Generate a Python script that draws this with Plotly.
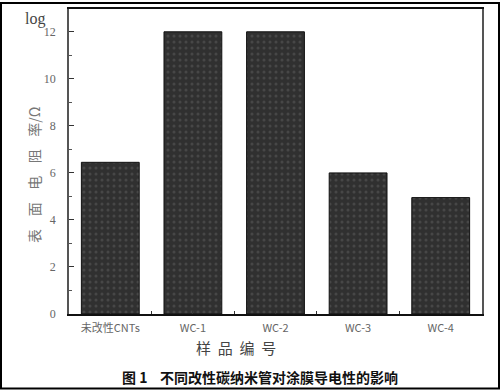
import plotly.graph_objects as go

categories = ["未改性CNTs", "WC-1", "WC-2", "WC-3", "WC-4"]
values = [6.45, 12.0, 12.0, 6.0, 4.95]
y_ticks = [0, 2, 4, 6, 8, 10, 12]

x_pos = list(range(len(categories)))

fig = go.Figure()
fig.add_trace(go.Bar(
    x=x_pos, y=values, width=0.7,
    marker=dict(
        color="#333333",
        line=dict(color="#111111", width=1),
        pattern=dict(shape=".", fgcolor="#5e5e5e", bgcolor="#303030", size=6, solidity=0.2),
    ),
))

fig.update_layout(
    width=500, height=390,
    margin=dict(l=69, r=18, t=7, b=76),
    paper_bgcolor="white", plot_bgcolor="white",
    showlegend=False,
    font=dict(family="Noto Sans CJK SC", color="#555"),
    xaxis=dict(
        range=[-0.5, 4.5], tickvals=x_pos, ticktext=categories,
        showline=True, linecolor="#111", linewidth=1.5, mirror=True,
        ticks="inside", ticklen=4, tickcolor="#333",
        minor=dict(ticks="inside", ticklen=3, tickvals=[0.5, 1.5, 2.5, 3.5], tickcolor="#333"),
        showgrid=False, zeroline=False, ticklabelstandoff=3,
        tickfont=dict(family="Noto Sans CJK SC", size=11, color="#666"),
    ),
    yaxis=dict(
        range=[0, 12.97], tickvals=y_ticks,
        showline=True, linecolor="#555", linewidth=1.5, mirror=True,
        ticks="inside", ticklen=5, tickcolor="#333",
        minor=dict(ticks="inside", ticklen=3, dtick=1, tickcolor="#555"),
        showgrid=False, zeroline=False, ticklabelstandoff=9,
        tickfont=dict(family="Liberation Serif", size=12, color="#666"),
    ),
    shapes=[dict(type="rect", xref="paper", yref="paper", x0=-68/413, x1=1+17/413,
                 y0=-75/307, y1=1+6/307, line=dict(color="black", width=2))],
)

def ann(text, px, py, size, color, family, angle=0):
    fig.add_annotation(text=text, xref="paper", yref="paper",
                       x=(px - 69) / 413, y=(314 - py) / 307,
                       xanchor="center", yanchor="middle", textangle=angle,
                       showarrow=False, font=dict(size=size, color=color, family=family))

ann("表    面    电    阻    率/Ω", 34, 174, 14, "#777", "Noto Sans CJK SC", -90)
ann("log", 35, 17, 16, "#444", "Liberation Serif")
ann("样  品  编  号", 236, 348, 15, "#444", "Noto Sans CJK SC")
ann("<b>图 1</b>    <b>不同改性碳纳米管对涂膜导电性的影响</b>", 260, 377, 14, "#111", "Noto Sans CJK SC")

fig.write_html("out.html")
